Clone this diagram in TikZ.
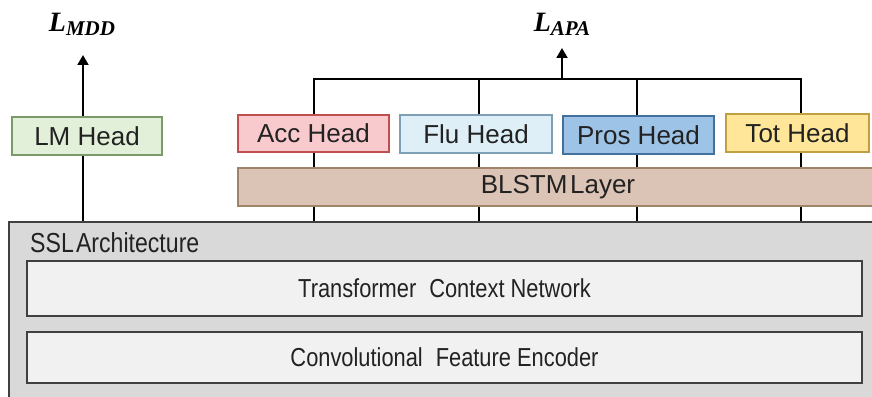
\documentclass[tikz,border=0pt]{standalone}
\usepackage{fontspec}
\setmainfont{Liberation Sans}
\newfontfamily\lossfont{Liberation Serif}
\newfontfamily\narrowfont[FakeStretch=0.84]{Liberation Sans}
\usetikzlibrary{arrows.meta}
\pgfdeclarelayer{bg}
\pgfsetlayers{bg,main}

\definecolor{lmfill}{HTML}{E2F0D9}
\definecolor{lmdraw}{HTML}{7A9A6A}
\definecolor{accfill}{HTML}{F8CACD}
\definecolor{accdraw}{HTML}{C0504D}
\definecolor{flufill}{HTML}{DEEFF8}
\definecolor{fludraw}{HTML}{7F9FB5}
\definecolor{prosfill}{HTML}{9DC3E6}
\definecolor{prosdraw}{HTML}{41719C}
\definecolor{totfill}{HTML}{FFE699}
\definecolor{totdraw}{HTML}{BF9F40}
\definecolor{blstmfill}{HTML}{DBC3B5}
\definecolor{blstmdraw}{HTML}{A08468}
\definecolor{sslfill}{HTML}{D9D9D9}
\definecolor{ssldraw}{HTML}{404040}
\definecolor{innerfill}{HTML}{F1F1F1}
\definecolor{txt}{HTML}{222222}

\tikzset{
  x=1pt, y=-1pt,
  headbox/.style={draw, line width=1.4pt, inner sep=0pt, text=txt,
    font=\fontsize{26}{28}\selectfont},
  innerbox/.style={draw=ssldraw, fill=innerfill, line width=2pt, inner sep=0pt,
    text=txt, minimum width=835pt, font=\narrowfont\fontsize{26}{28}\selectfont},
  wire/.style={line width=2pt, black},
  lossarrow/.style={wire, -{Triangle[width=11pt,length=10pt]}},
  losslabel/.style={inner sep=0pt, text=black,
    font=\lossfont\bfseries\itshape\fontsize{28}{30}\selectfont},
}

\newcommand{\losssub}[2]{#1\raisebox{-0.3ex}{\fontsize{21}{22}\selectfont #2}}

\begin{document}
\begin{tikzpicture}
  \useasboundingbox (0,0) rectangle (872,396);

  % self-supervised backbone
  \node[draw=ssldraw, fill=sslfill, line width=2pt, inner sep=0pt,
        minimum width=880pt, minimum height=180pt] (ssl) at (449,312) {};
  \node[anchor=west, inner sep=0pt, text=txt,
        font=\narrowfont\fontsize{27.5}{29}\selectfont] (ssllabel) at (30,243)
        {SSL\hspace{0.08em}Architecture};
  \node[innerbox, minimum height=55pt] (trans) at (444.5,288.5)
        {Transformer\hspace{0.5em}Context Network};
  \node[innerbox, minimum height=51pt] (conv) at (444.5,357.5)
        {Convolutional\hspace{0.5em}Feature Encoder};

  % task heads
  \node[headbox, fill=lmfill, draw=lmdraw, minimum width=150pt, minimum height=38pt]
        (lm) at (87,136) {LM Head};
  \node[headbox, fill=accfill, draw=accdraw, minimum width=151pt, minimum height=37pt]
        (acc) at (313.5,133.5) {Acc Head};
  \node[headbox, fill=flufill, draw=fludraw, minimum width=152pt, minimum height=38pt]
        (flu) at (476,134) {Flu Head};
  \node[headbox, fill=prosfill, draw=prosdraw, minimum width=151pt, minimum height=38pt]
        (pros) at (638.5,135) {Pros Head};
  \node[headbox, fill=totfill, draw=totdraw, minimum width=143pt, minimum height=38pt]
        (tot) at (797.5,133) {Tot Head};
  \node[headbox, fill=blstmfill, draw=blstmdraw, minimum width=640pt, minimum height=38pt]
        (blstm) at (558,187) {};
  \node[inner sep=0pt, text=txt, font=\fontsize{26}{28}\selectfont]
        (blstmtext) at (558,187) {BLSTM\hspace{0.1em}Layer};

  % loss labels
  \node[losslabel] (lmdd) at (82,24) {\losssub{L}{MDD}};
  \node[losslabel] (lapa) at (562,24) {\losssub{L}{APA}};

  % connector geometry
  \coordinate (lmtip) at (83,55);
  \coordinate (j1) at (314,79);
  \coordinate (j2) at (479,79);
  \coordinate (j3) at (637,79);
  \coordinate (j4) at (801,79);
  \coordinate (apafoot) at (562,79);
  \coordinate (apatip) at (562,48);

  \begin{pgfonlayer}{bg}
    \draw[lossarrow] (ssl.north -| lmtip) -- (lmtip);
    \draw[wire] (ssl.north -| j1) -- (j1);
    \draw[wire] (ssl.north -| j2) -- (j2);
    \draw[wire] (ssl.north -| j3) -- (j3);
    \draw[wire] (ssl.north -| j4) -- (j4);
    \draw[wire, line cap=rect] (j1) -- (j4);
    \draw[lossarrow] (apafoot) -- (apatip);
  \end{pgfonlayer}
\end{tikzpicture}
\end{document}
